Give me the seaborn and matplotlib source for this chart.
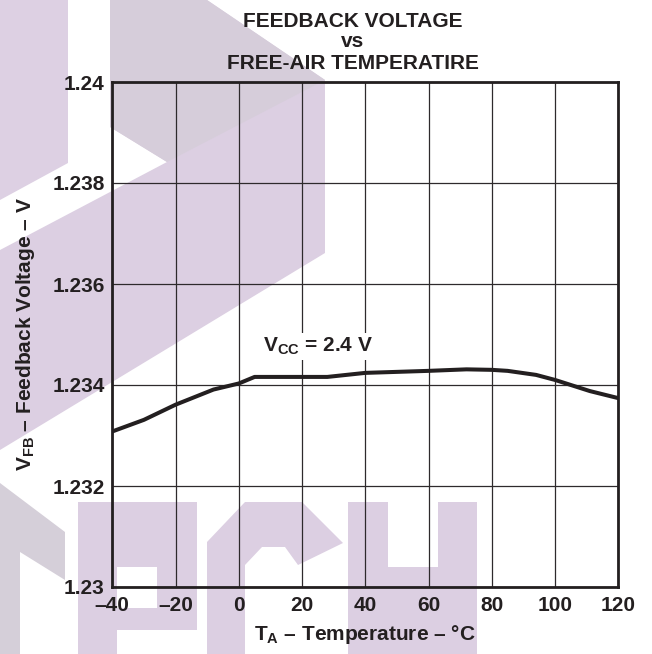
import seaborn as sns
import pandas as pd
import matplotlib.pyplot as plt

# data
temp_c = [-40, -30, -20, -8, 0, 5, 20, 28, 40, 60, 72, 80, 85, 94, 100, 111, 120]
v_fb = [1.23308, 1.23331, 1.23361, 1.23391, 1.23403, 1.23416, 1.23416, 1.23416,
        1.23424, 1.23428, 1.23431, 1.23430, 1.23428, 1.23420, 1.23410, 1.23388, 1.23374]

x_ticks = [-40, -20, 0, 20, 40, 60, 80, 100, 120]
x_labels = ['\u201340', '\u201320', '0', '20', '40', '60', '80', '100', '120']
y_ticks = [1.23, 1.232, 1.234, 1.236, 1.238, 1.24]
y_labels = ['1.23', '1.232', '1.234', '1.236', '1.238', '1.24']

data = pd.DataFrame({'T': temp_c, 'V': v_fb})

sns.set_style('white')
plt.rcParams['font.family'] = ['Liberation Sans', 'DejaVu Sans']
plt.rcParams['font.weight'] = 'bold'
plt.rcParams['mathtext.fontset'] = 'custom'
plt.rcParams['mathtext.rm'] = 'Liberation Sans:bold'
plt.rcParams['mathtext.bf'] = 'Liberation Sans:bold'
plt.rcParams['mathtext.it'] = 'Liberation Sans:bold'

ink = '#231f20'
W, H = 652, 654
fig = plt.figure(figsize=(W / 100, H / 100), dpi=100)

# watermark in the background (pixel coords)
bg = fig.add_axes([0, 0, 1, 1], zorder=0)
bg.set_xlim(0, W)
bg.set_ylim(H, 0)
bg.axis('off')
light = '#dccfe2'
shapes = [
    ([(0, 0), (68, 0), (68, 163), (0, 200)], '#ddd0e3'),
    ([(110, 0), (207, 0), (325, 80), (325, 253), (0, 450), (0, 250), (167, 162), (110, 127)], light),
    ([(110, 0), (207, 0), (325, 80), (167, 162), (110, 127)], '#d6cdda'),
    ([(0, 483), (65, 532), (65, 580), (20, 552), (20, 654), (0, 654)], '#d5cfd9'),
    ([(78, 502), (117, 502), (117, 654), (78, 654)], light),
    ([(117, 502), (197, 502), (197, 567), (117, 567)], light),
    ([(157, 567), (197, 567), (197, 608), (157, 608)], light),
    ([(117, 608), (197, 608), (197, 630), (117, 630)], light),
    ([(207, 654), (207, 542), (245, 502), (302, 502), (343, 543), (298, 565),
      (285, 547), (262, 547), (245, 565), (245, 654)], light),
    ([(348, 502), (388, 502), (388, 654), (348, 654)], light),
    ([(438, 502), (477, 502), (477, 654), (438, 654)], light),
    ([(388, 567), (438, 567), (438, 654), (388, 654)], light),
]
for pts, col in shapes:
    xs, ys = zip(*pts)
    bg.fill(xs, ys, color=col, lw=0)

left, right, top, bottom = 112.3, 618.3, 82, 587
ax = fig.add_axes([left / W, 1 - bottom / H, (right - left) / W, (bottom - top) / H], zorder=1)
ax.set_facecolor('none')

sns.lineplot(x='T', y='V', data=data, ax=ax, color=ink, linewidth=2.9, zorder=3)

ax.set_xlim(-40, 120)
ax.set_ylim(1.23, 1.24)
ax.set_xticks(x_ticks)
ax.set_xticklabels(x_labels)
ax.set_yticks(y_ticks)
ax.set_yticklabels(y_labels)
ax.tick_params(axis='both', length=0, labelsize=15, labelcolor=ink)
ax.tick_params(axis='x', pad=6.5)
ax.tick_params(axis='y', pad=5.5)
ax.grid(True, color='#2e2a2c', linewidth=0.9)
for s in ax.spines.values():
    s.set_visible(True)
    s.set_color(ink)
    s.set_linewidth(2.0)

ax.set_xlabel('$\\mathregular{T_A}$ \u2013 Temperature \u2013 \u00b0C', fontsize=15,
              fontweight='bold', color=ink, labelpad=6)
ax.set_ylabel('$\\mathregular{V_{FB}}$ \u2013 Feedback Voltage \u2013 V', fontsize=15,
              fontweight='bold', color=ink, labelpad=11)

ax.text(7.7, 1.23465, '$\\mathregular{V_{CC}}$ = 2.4 V', fontsize=15, fontweight='bold',
        color=ink, va='baseline', ha='left', zorder=4,
        bbox=dict(facecolor='white', edgecolor='none', pad=2))

cx = 353 / W
fig.text(cx, 1 - 27 / H, 'FEEDBACK VOLTAGE', ha='center', va='baseline', fontsize=15,
         fontweight='bold', color=ink)
fig.text(cx, 1 - 47 / H, 'vs', ha='center', va='baseline', fontsize=15,
         fontweight='bold', color=ink)
fig.text(cx, 1 - 69 / H, 'FREE-AIR TEMPERATIRE', ha='center', va='baseline', fontsize=15,
         fontweight='bold', color=ink)

plt.savefig('out.png', dpi=100)
